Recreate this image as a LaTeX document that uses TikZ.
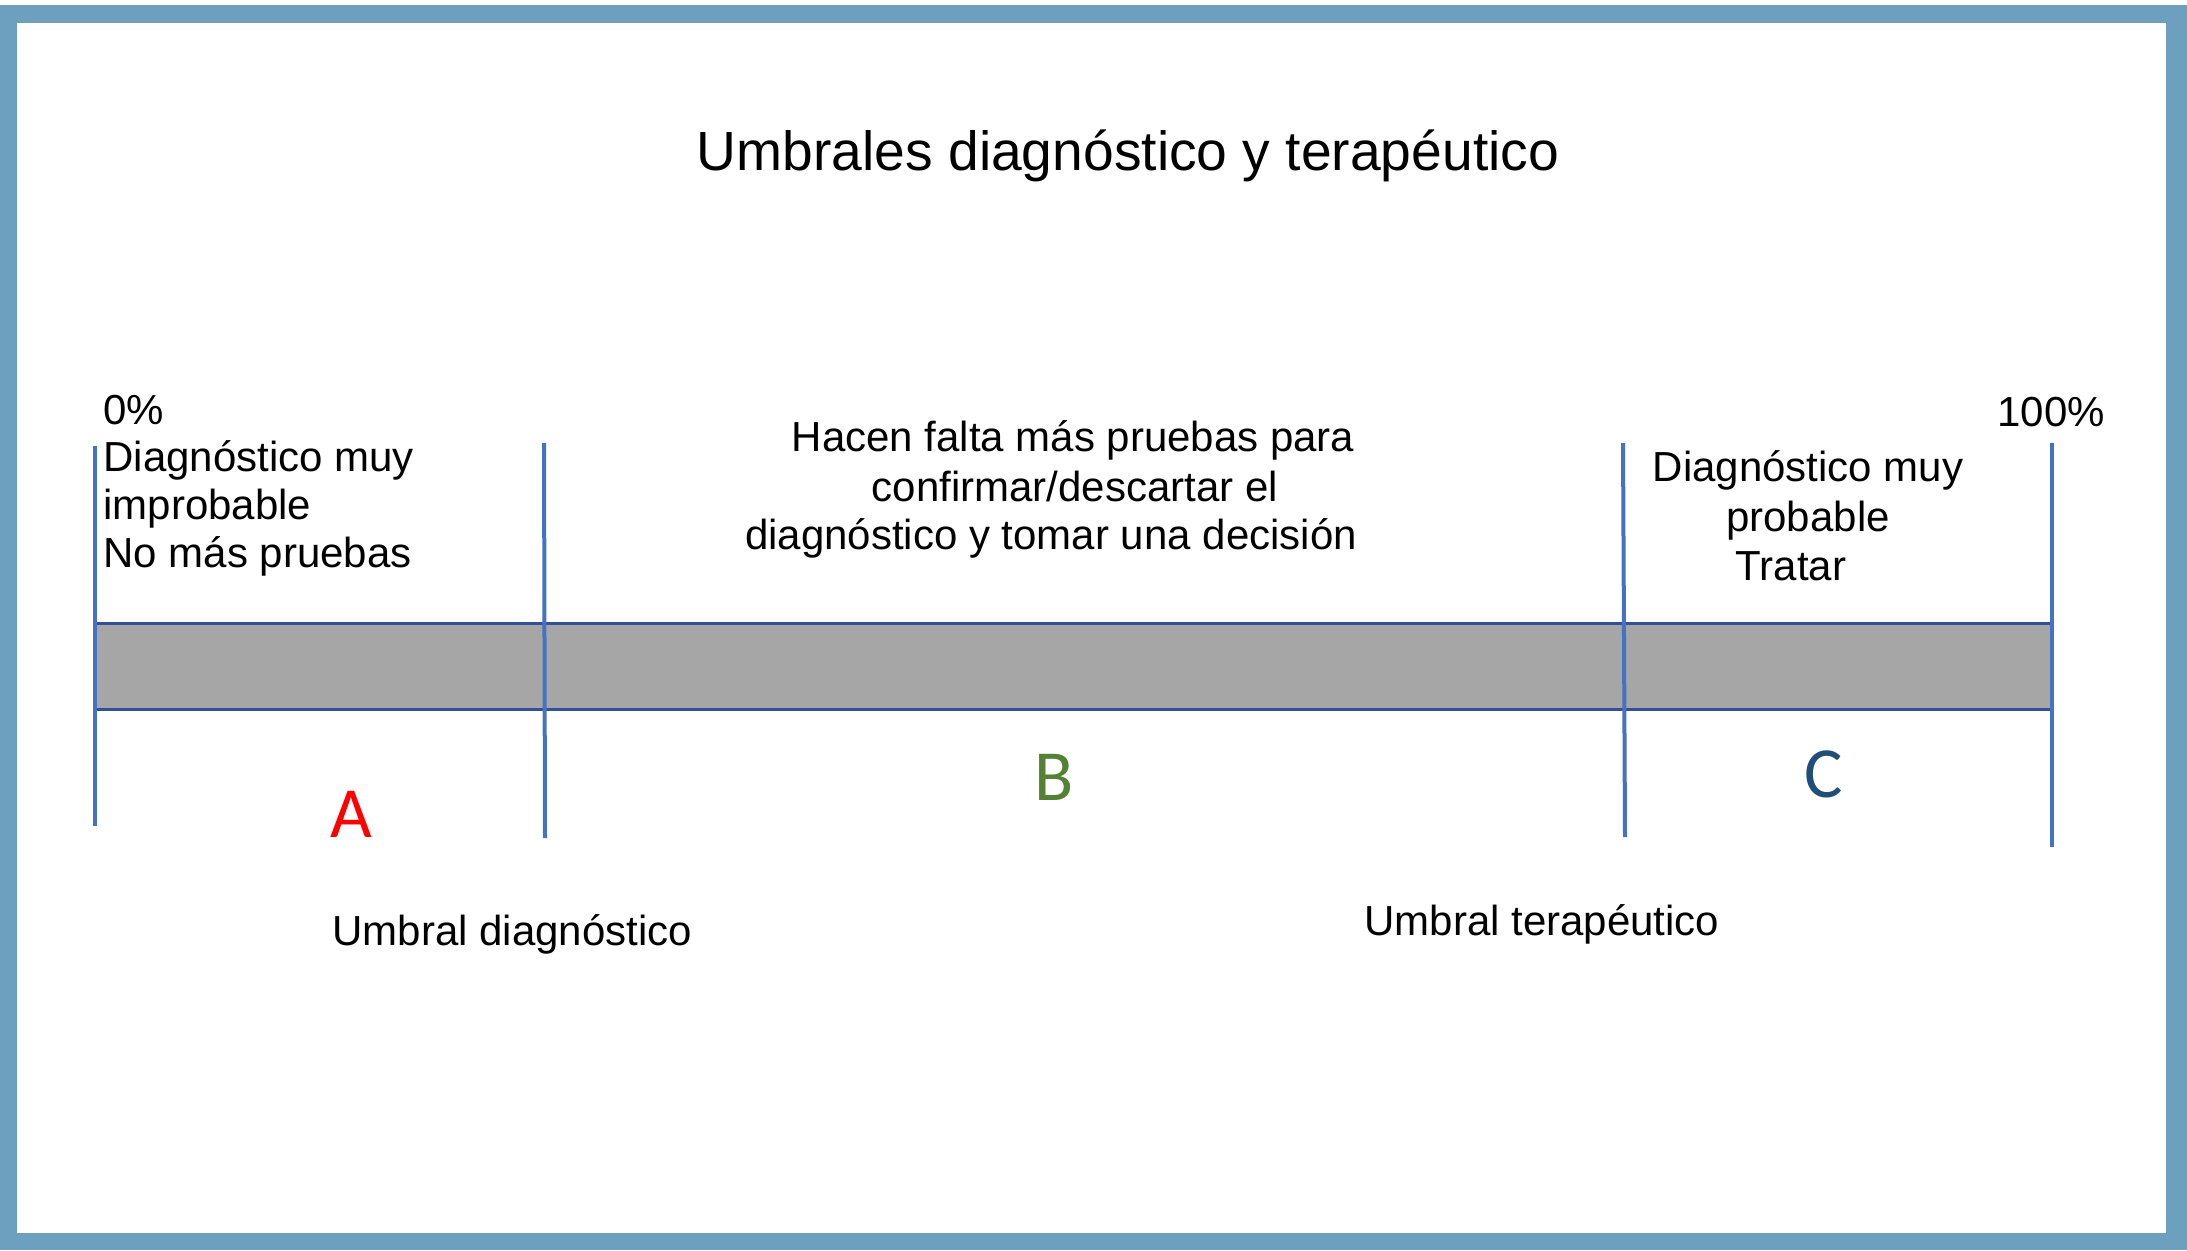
\documentclass[tikz,border=0pt]{standalone}
\usepackage{fontspec}
\setmainfont{Liberation Sans}
\newfontfamily\calib{Carlito}
\definecolor{frameblue}{RGB}{109,159,191}
\definecolor{vline}{RGB}{68,114,196}
\definecolor{barline}{RGB}{50,80,150}
\definecolor{bargray}{RGB}{166,166,166}
\definecolor{letB}{RGB}{84,130,53}
\definecolor{letC}{RGB}{31,78,121}
\begin{document}
\begin{tikzpicture}[x=0.5pt,y=-0.5pt,
  txt/.style={inner sep=0pt,font=\fontsize{21}{24.5}\selectfont},
  lbl/.style={inner sep=0pt,anchor=base,font=\calib\fontsize{36}{40}\selectfont},
  marker/.style={draw=vline,line width=2pt},
  barbox/.style={fill=bargray}]
\useasboundingbox (0,0) rectangle (2187,1250);
% frame
\fill[frameblue] (0,5) rectangle (2187,1250);
\fill[white] (17,23) rectangle (2166,1233);
% title
\node[txt,anchor=base,font=\fontsize{27.6}{32}\selectfont] (title) at (1128,170) {Umbrales diagnóstico y terapéutico};
% bar
\coordinate (b0t) at (95,623); \coordinate (b3t) at (2052,623);
\coordinate (b0b) at (95,709); \coordinate (b3b) at (2052,709);
\fill[barbox] (b0t) rectangle (b3b);
\draw[barline,line width=1.5pt] (b0t) -- (b3t);
\draw[barline,line width=1.5pt] (b0b) -- (b3b);
% vertical markers
\coordinate (m0a) at (95,446);   \coordinate (m0b) at (95,826);
\coordinate (m1a) at (544,443);  \coordinate (m1b) at (545,838);
\coordinate (m2a) at (1623,443); \coordinate (m2b) at (1625,837);
\coordinate (m3a) at (2052,443); \coordinate (m3b) at (2052,847);
\draw[marker] (m0a) -- (m0b);
\draw[marker] (m1a) -- (m1b);
\draw[marker] (m2a) -- (m2b);
\draw[marker] (m3a) -- (m3b);
% left texts
\node[txt,anchor=base west] (p0) at (103,424) {0\%};
\node[txt,anchor=base west] (l1) at (103,471) {Diagnóstico muy};
\node[txt,anchor=base west] (l2) at (103,519) {improbable};
\node[txt,anchor=base west] (l3) at (103,567) {No más pruebas};
% middle texts
\node[txt,anchor=base] (c1) at (1073,451) {Hacen falta más pruebas para};
\node[txt,anchor=base] (c2) at (1075,501) {confirmar/descartar el};
\node[txt,anchor=base] (c3) at (1051,549) {diagnóstico y tomar una decisión};
% right texts
\node[txt,anchor=base west] (p100) at (1997,426) {100\%};
\node[txt,anchor=base] (r1) at (1808,481) {Diagnóstico muy};
\node[txt,anchor=base] (r2) at (1808,531) {probable};
\node[txt,anchor=base] (r3) at (1791,580) {Tratar};
% letters
\node[lbl,text=red] (A) at (351,837) {A};
\node[lbl,text=letB] (B) at (1054,800) {B};
\node[lbl,text=letC] (C) at (1824,797) {C};
% thresholds
\node[txt,anchor=base west] (ud) at (332,945) {Umbral diagnóstico};
\node[txt,anchor=base west] (ut) at (1364,935) {Umbral terapéutico};
\end{tikzpicture}
\end{document}
